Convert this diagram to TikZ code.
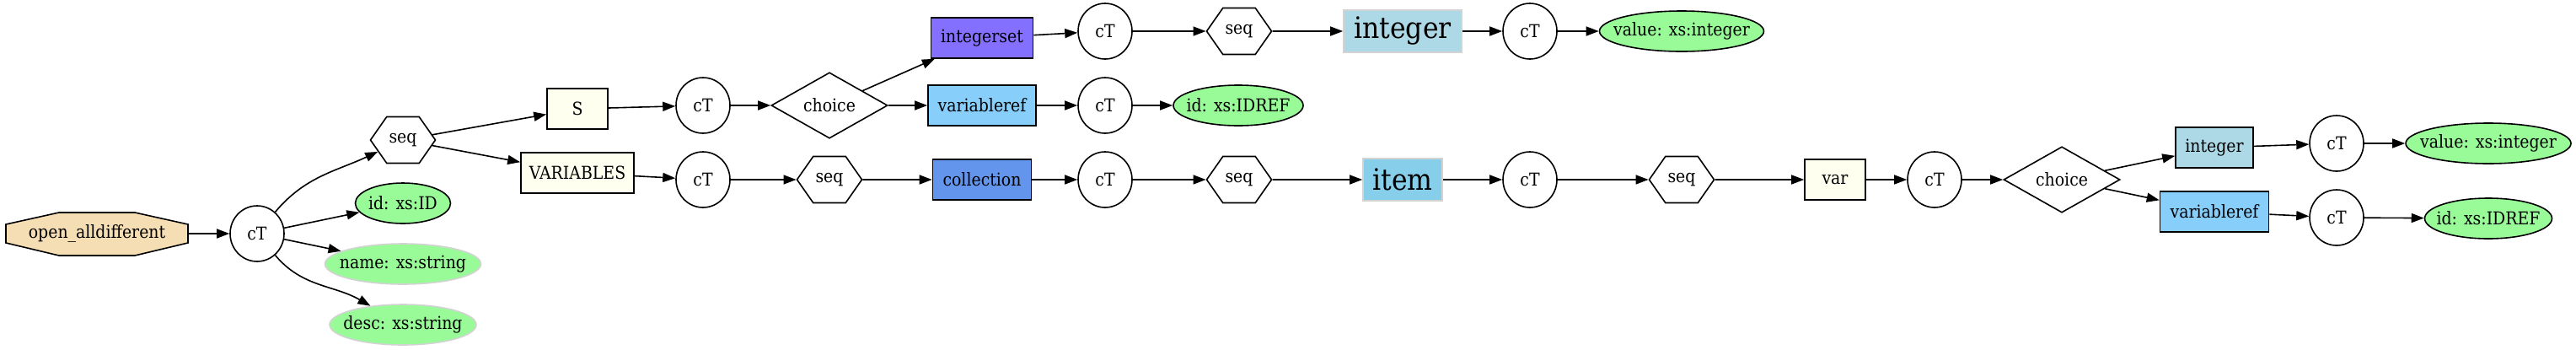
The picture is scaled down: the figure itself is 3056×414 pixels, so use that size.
\documentclass[tikz,border=0pt]{standalone}
\usepackage{fontspec}
\setmainfont{DejaVu Serif Condensed}
\usepackage{xcolor}
\usepackage{tikz}
\usetikzlibrary{shapes.geometric,shapes.symbols,arrows.meta}

\definecolor{wheat}{HTML}{F5DEB3}
\definecolor{ivory}{HTML}{FFFFF0}
\definecolor{slateblue}{HTML}{8470FF}
\definecolor{ltskyblue}{HTML}{87CEFA}
\definecolor{cornblue}{HTML}{6495ED}
\definecolor{ltblue}{HTML}{ADD8E6}
\definecolor{skyblue}{HTML}{87CEEB}
\definecolor{palegreen}{HTML}{98FB98}
\definecolor{ltgray}{HTML}{D3D3D3}

\tikzset{
  ctnode/.style={ellipse,draw,minimum width=32pt,minimum height=33pt,inner sep=0pt},
  seqnode/.style={signal,signal to=east and west,signal pointer angle=110,draw,minimum width=38.5pt,minimum height=27.5pt,inner sep=0pt},
  choicenode/.style={diamond,draw,minimum width=69pt,minimum height=33pt,inner sep=0pt},
  elbox/.style={rectangle,draw,minimum height=24pt,inner sep=0pt},
  bigbox/.style={rectangle,draw=ltgray,minimum height=25pt,inner sep=0pt,font=\fontsize{17.5}{21}\selectfont},
  attrnode/.style={ellipse,draw,fill=palegreen,minimum height=24pt,inner xsep=-8pt,inner ysep=0pt},
  optattr/.style={attrnode,draw=ltgray},
  link/.style={->}
}

\begin{document}
\begin{tikzpicture}[x=0.5pt,y=0.5pt,line width=0.8pt,>={Triangle[length=7.5pt,width=5.5pt]},font=\fontsize{10.5}{12.6}\selectfont]
\useasboundingbox (0,0) rectangle (3056,-414);

\filldraw[fill=wheat] (7,-266) -- (70,-252) -- (160,-252) -- (223,-266) -- (223,-288) -- (160,-303) -- (70,-303) -- (7,-288) -- cycle;
\node[rectangle,minimum width=108pt,minimum height=25.5pt,inner sep=0pt] (od) at (115,-277) {open\_alldifferent};

\node[ctnode] (ct0) at (305,-277) {cT};
\node[seqnode] (sq0) at (478,-166) {seq};
\node[attrnode,minimum width=56.5pt] (aid) at (478,-241) {id: xs:ID};
\node[optattr,minimum width=92.5pt] (aname) at (478,-313) {name: xs:string};
\node[optattr,minimum width=87pt] (adesc) at (478,-385) {desc: xs:string};

\node[elbox,fill=ivory,minimum width=36pt] (bS) at (685,-129) {S};
\node[elbox,fill=ivory,minimum width=67pt] (bVars) at (685,-205) {VARIABLES};
\node[ctnode] (ct1) at (834,-125) {cT};
\node[ctnode] (ct2) at (834,-213) {cT};
\node[choicenode] (ch1) at (984,-125) {choice};
\node[seqnode] (sq1) at (984,-213) {seq};

\node[elbox,fill=slateblue,minimum width=60.5pt] (bIntset) at (1165,-45) {integerset};
\node[elbox,fill=ltskyblue,minimum width=64pt] (bVref) at (1165,-125) {variableref};
\node[elbox,fill=cornblue,minimum width=58.5pt] (bColl) at (1165,-213) {collection};
\node[ctnode] (ct3) at (1311,-37) {cT};
\node[ctnode] (ct4) at (1311,-125) {cT};
\node[ctnode] (ct5) at (1311,-213) {cT};
\node[seqnode] (sq2) at (1470,-37) {seq};
\node[attrnode,minimum width=77pt] (aref1) at (1469,-125) {id: xs:IDREF};
\node[seqnode] (sq3) at (1470,-213) {seq};

\node[bigbox,fill=ltblue,minimum width=70pt] (bInt) at (1664,-37) {integer};
\node[bigbox,fill=skyblue,minimum width=47pt] (bItem) at (1664,-213) {item};
\node[ctnode] (ct6) at (1815,-37) {cT};
\node[ctnode] (ct7) at (1815,-213) {cT};
\node[attrnode,minimum width=97.5pt] (aval1) at (1995,-37) {value: xs:integer};
\node[seqnode] (sq4) at (1995,-213) {seq};

\node[elbox,fill=ivory,minimum width=36pt] (bVar) at (2177,-213) {var};
\node[ctnode] (ct8) at (2295,-213) {cT};
\node[choicenode] (ch2) at (2446,-213) {choice};
\node[elbox,fill=ltblue,minimum width=46pt] (bInt2) at (2627,-175) {integer};
\node[elbox,fill=ltskyblue,minimum width=64.5pt] (bVref2) at (2627,-251) {variableref};
\node[ctnode] (ct9) at (2772,-170) {cT};
\node[ctnode] (ct10) at (2772,-258) {cT};
\node[attrnode,minimum width=98pt] (aval2) at (2952,-170) {value: xs:integer};
\node[attrnode,minimum width=75.5pt] (aref2) at (2952,-259) {id: xs:IDREF};

\draw[link] (od) -- (ct0);
\draw[link] (ct0) to[out=50,in=205] (sq0);
\draw[link] (ct0) -- (aid);
\draw[link] (ct0) -- (aname);
\draw[link] (ct0) to[out=-50,in=150] (adesc);
\draw[link] (sq0) -- (bS);
\draw[link] (sq0) -- (bVars);
\draw[link] (bS) -- (ct1);
\draw[link] (bVars) -- (ct2);
\draw[link] (ct1) -- (ch1);
\draw[link] (ch1) -- (bIntset);
\draw[link] (ch1) -- (bVref);
\draw[link] (ct2) -- (sq1);
\draw[link] (sq1) -- (bColl);
\draw[link] (bIntset) -- (ct3);
\draw[link] (bVref) -- (ct4);
\draw[link] (bColl) -- (ct5);
\draw[link] (ct3) -- (sq2);
\draw[link] (ct4) -- (aref1);
\draw[link] (ct5) -- (sq3);
\draw[link] (sq2) -- (bInt);
\draw[link] (sq3) -- (bItem);
\draw[link] (bInt) -- (ct6);
\draw[link] (bItem) -- (ct7);
\draw[link] (ct6) -- (aval1);
\draw[link] (ct7) -- (sq4);
\draw[link] (sq4) -- (bVar);
\draw[link] (bVar) -- (ct8);
\draw[link] (ct8) -- (ch2);
\draw[link] (ch2) -- (bInt2);
\draw[link] (ch2) -- (bVref2);
\draw[link] (bInt2) -- (ct9);
\draw[link] (bVref2) -- (ct10);
\draw[link] (ct9) -- (aval2);
\draw[link] (ct10) -- (aref2);

\end{tikzpicture}
\end{document}
